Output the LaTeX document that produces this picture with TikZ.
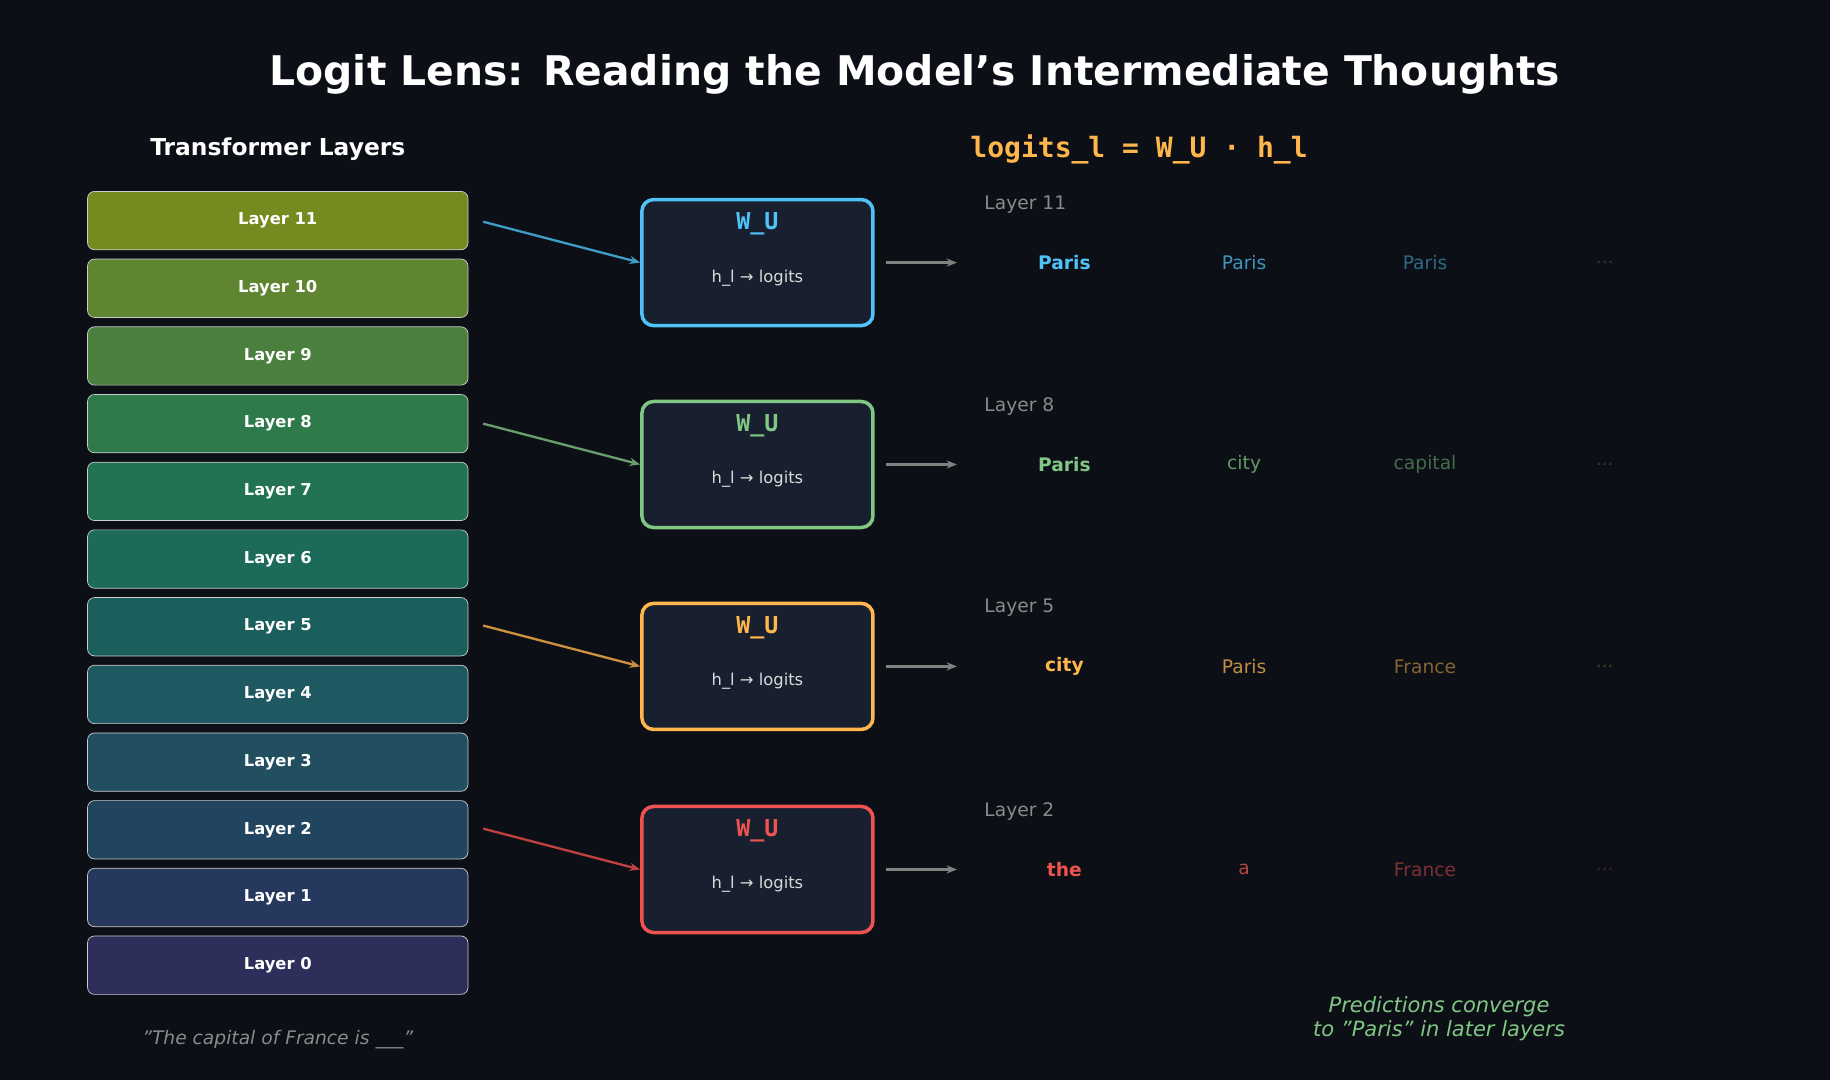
\documentclass[tikz,border=0pt]{standalone}
\usepackage{fontspec}
\setmainfont{DejaVu Sans}
\setmonofont{DejaVu Sans Mono}
\usetikzlibrary{arrows.meta}
\definecolor{bg}{HTML}{0C0F16}
\definecolor{boxbg}{HTML}{182030}
\definecolor{cblue}{HTML}{4FC3F7}
\definecolor{cgreen}{HTML}{81C784}
\definecolor{corange}{HTML}{FFB74D}
\definecolor{cred}{HTML}{EF5350}
\definecolor{gtxt}{HTML}{8A8A8A}
\tikzset{
 layerbox/.style={draw=white!60!gray, line width=0.6pt, rounded corners=6pt, minimum width=326pt, minimum height=50pt, inner sep=0pt, text=white, font=\fontsize{14}{16}\selectfont\bfseries},
 wubox/.style={draw=#1, line width=3pt, fill=boxbg, rounded corners=10pt, minimum width=198pt, minimum height=108pt},
 inarrow/.style={-{Stealth[length=9pt,width=7pt]}, line width=2pt},
 outarrow/.style={-{Stealth[length=9pt,width=7pt]}, line width=2.2pt, draw=gray},
 pred/.style={font=\fontsize{16}{18}\selectfont},
}
\begin{document}
\begin{tikzpicture}[x=1pt,y=-1pt]
\fill[bg] (0,0) rectangle (1568,925);
\useasboundingbox (0,0) rectangle (1568,925);
\node[text=white,font=\fontsize{35}{40}\selectfont\bfseries] (title) at (784,64) {Logit Lens: Reading the Model's Intermediate Thoughts};
\node[text=white,font=\fontsize{20}{24}\selectfont\bfseries] (tl) at (238,128) {Transformer Layers};
\node[text=corange,font=\fontsize{24}{28}\selectfont\ttfamily\bfseries] (eq) at (976,128) {logits\_l = W\_U · h\_l};
\foreach \i/\c in {11/758A1F,10/5F8530,9/4A7F3E,8/2F7A4A,7/217352,6/1C6A5A,5/1B5F5C,4/1E5860,3/214F60,2/22455F,1/27385E,0/2E2E5A}{
  \definecolor{lc}{HTML}{\c}
  \node[layerbox, fill=lc] (L\i) at (238,{189+58*(11-\i)}) {Layer \i};
}
\node[text=gtxt,font=\fontsize{16}{18}\selectfont\itshape] (prompt) at (238,891) {"The capital of France is \_\_\_"};
\foreach \i/\y/\c/\p/\q/\r in {11/225/cblue/Paris/Paris/Paris, 8/398/cgreen/Paris/city/capital, 5/571/corange/city/Paris/France, 2/745/cred/the/a/France}{
  \node[wubox=\c] (W\i) at (649,\y) {};
  \node[text=\c,font=\fontsize{20}{22}\selectfont\ttfamily\bfseries] (wt\i) at (649,{\y-33}) {W\_U};
  \node[text=white!70!gray,font=\fontsize{14}{16}\selectfont] (ws\i) at (649,{\y+13}) {h\_l → logits};
  \coordinate (s\i) at (414,{\y-35});
  \draw[inarrow, draw=\c!80!black] (s\i) -- (W\i.west);
  \coordinate (o\i) at (820,\y);
  \draw[outarrow] ([xshift=10pt]W\i.east) -- (o\i);
  \node[text=gtxt,anchor=west,font=\fontsize{16}{18}\selectfont] (lab\i) at (840,{\y-50}) {Layer \i};
  \node[pred,text=\c,font=\fontsize{16}{18}\selectfont\bfseries] (p1\i) at (912,\y) {\p};
  \node[pred,text=\c!75!bg] (p2\i) at (1066,\y) {\q};
  \node[pred,text=\c!50!bg] (p3\i) at (1221,\y) {\r};
  \node[pred,text=\c!25!bg] (p4\i) at (1375,\y) {...};
}
\node[text=cgreen,align=center,font=\fontsize{18}{21}\selectfont\itshape] (conv) at (1233,873) {Predictions converge\\to "Paris" in later layers};
\end{tikzpicture}
\end{document}
